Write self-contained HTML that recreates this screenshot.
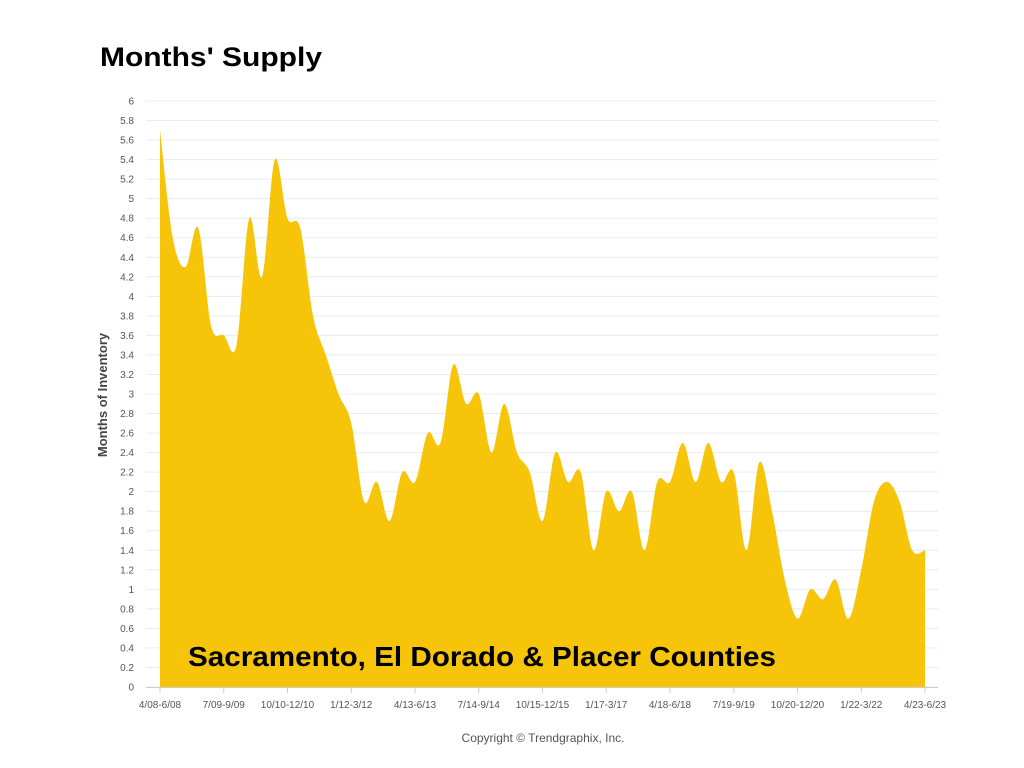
<!DOCTYPE html>
<html><head><meta charset="utf-8"><style>
body{margin:0;background:#fff;width:1024px;height:768px;overflow:hidden;font-family:"Liberation Sans",sans-serif}
svg{position:absolute;left:0;top:0}
</style></head><body>
<svg width="1024" height="768" id="chart">
<text x="100" y="66" font-size="27" font-weight="bold" fill="#000" textLength="222" lengthAdjust="spacingAndGlyphs">Months' Supply</text>
<g id="grid"></g><g id="area"></g><g id="axes"></g>
<text transform="translate(107,395) rotate(-90)" text-anchor="middle" font-size="13" font-weight="bold" fill="#444">Months of Inventory</text>
<text x="188" y="666" font-size="28" font-weight="bold" fill="#000" textLength="588" lengthAdjust="spacingAndGlyphs">Sacramento, El Dorado &amp; Placer Counties</text>
<text x="543" y="742" text-anchor="middle" font-size="12" fill="#555">Copyright © Trendgraphix, Inc.</text>
</svg>
<script>
const values=[5.7,4.6,4.3,4.7,3.7,3.6,3.5,4.8,4.2,5.4,4.8,4.7,3.8,3.4,3.0,2.7,1.9,2.1,1.7,2.2,2.1,2.6,2.5,3.3,2.9,3.0,2.4,2.9,2.4,2.2,1.7,2.4,2.1,2.2,1.4,2.0,1.8,2.0,1.4,2.1,2.1,2.5,2.1,2.5,2.1,2.2,1.4,2.3,1.8,1.1,0.7,1.0,0.9,1.1,0.7,1.2,1.9,2.1,1.9,1.4,1.4];
const xLabels=["4/08-6/08","7/09-9/09","10/10-12/10","1/12-3/12","4/13-6/13","7/14-9/14","10/15-12/15","1/17-3/17","4/18-6/18","7/19-9/19","10/20-12/20","1/22-3/22","4/23-6/23"];
const yTicks=[0,0.2,0.4,0.6,0.8,1,1.2,1.4,1.6,1.8,2,2.2,2.4,2.6,2.8,3,3.2,3.4,3.6,3.8,4,4.2,4.4,4.6,4.8,5,5.2,5.4,5.6,5.8,6];
const NS="http://www.w3.org/2000/svg";
const x0=160,x1=925,y0=687,y1=101;
const xs=i=>x0+(x1-x0)*i/(values.length-1);
const ys=v=>y0-(y0-y1)*v/6;
const grid=document.getElementById('grid'),axes=document.getElementById('axes'),area=document.getElementById('area');
yTicks.forEach(t=>{
 const l=document.createElementNS(NS,'line');
 
 
 l.setAttribute('x1',146);l.setAttribute('x2',938);l.setAttribute('y1',ys(t));l.setAttribute('y2',ys(t));
 l.setAttribute('stroke','#ececec');grid.appendChild(l);
 const tx=document.createElementNS(NS,'text');
 
 
 tx.setAttribute('x',134);tx.setAttribute('y',ys(t)+3.5);tx.setAttribute('text-anchor','end');
 tx.setAttribute('font-size','10');tx.setAttribute('fill','#555');tx.textContent=t;axes.appendChild(tx);
});
let pts=values.map((v,i)=>[xs(i),ys(v)]);
let d=`M${pts[0][0]},${y0} L${pts[0][0]},${pts[0][1]}`;
for(let i=0;i<pts.length-1;i++){
 const p0=pts[Math.max(i-1,0)],p1=pts[i],p2=pts[i+1],p3=pts[Math.min(i+2,pts.length-1)];
 const c1=[p1[0]+(p2[0]-p0[0])/6,p1[1]+(p2[1]-p0[1])/6],c2=[p2[0]-(p3[0]-p1[0])/6,p2[1]-(p3[1]-p1[1])/6];
 d+=` C${c1[0]},${c1[1]} ${c2[0]},${c2[1]} ${p2[0]},${p2[1]}`;
}
d+=` L${pts[pts.length-1][0]},${y0} Z`;
const path=document.createElementNS(NS,'path');


path.setAttribute('d',d);path.setAttribute('fill','#F6C50A');area.appendChild(path);
const ax=document.createElementNS(NS,'line');


ax.setAttribute('x1',146);ax.setAttribute('x2',938);ax.setAttribute('y1',y0+0.5);ax.setAttribute('y2',y0+0.5);ax.setAttribute('stroke','#ccc');axes.appendChild(ax);
xLabels.forEach((lab,k)=>{
 const x=xs(k*5);
 const tk=document.createElementNS(NS,'line');
 
 
 tk.setAttribute('x1',x);tk.setAttribute('x2',x);tk.setAttribute('y1',y0);tk.setAttribute('y2',y0+6);tk.setAttribute('stroke','#ccc');axes.appendChild(tk);
 const tx=document.createElementNS(NS,'text');
 
 
 tx.setAttribute('x',x);tx.setAttribute('y',708);tx.setAttribute('text-anchor','middle');
 tx.setAttribute('font-size','10');tx.setAttribute('fill','#555');tx.textContent=lab;axes.appendChild(tx);
});
</script>
</body></html>
